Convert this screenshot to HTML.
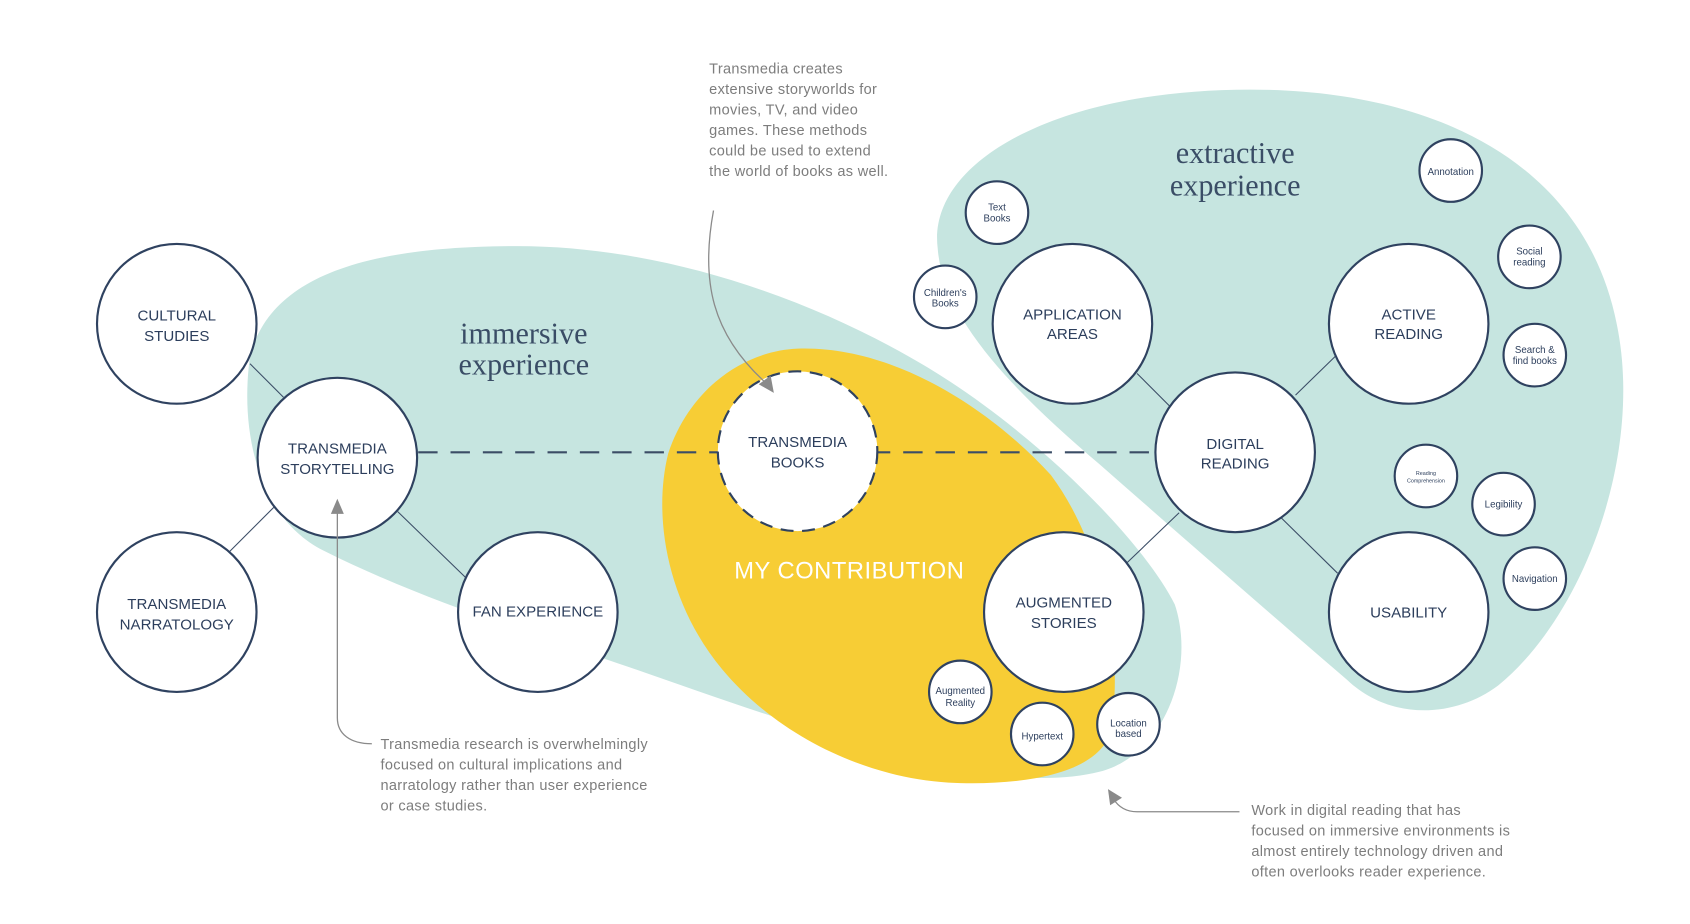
<!DOCTYPE html>
<html><head><meta charset="utf-8"><style>
html,body{margin:0;padding:0;background:#fff;}
svg{display:block;}
.l{font-family:"Liberation Sans",sans-serif;font-size:14px;fill:#2c3e5c;text-anchor:middle;}
.s{font-family:"Liberation Sans",sans-serif;font-size:9px;fill:#2c3e5c;text-anchor:middle;}
.a{font-family:"Liberation Sans",sans-serif;font-size:13.5px;fill:#7d7d7d;letter-spacing:0.3px;}
.h{font-family:"Liberation Serif",serif;font-size:28px;fill:#3a4d66;text-anchor:middle;}
</style></head><body>
<svg width="1690" height="924" viewBox="0 0 1568 856" preserveAspectRatio="none" xmlns="http://www.w3.org/2000/svg">
<rect width="1568" height="856" fill="#fff"/>
<path d="M232,330 C250,260 330,228 480,228 C620,228 760,280 860,340 C960,400 1060,500 1090,560 C1110,620 1080,700 1020,715 C960,730 870,715 770,680 C700,660 620,630 560,610 C470,580 380,550 300,510 C240,480 222,400 232,330 Z" fill="#c6e5e0"/>
<path d="M870,230 C860,150 980,83 1160,83 C1330,83 1470,150 1500,300 C1525,420 1470,570 1390,635 C1350,665 1290,668 1250,630 C1180,570 1100,500 1020,430 C950,370 875,300 870,230 Z" fill="#c6e5e0"/>
<path d="M740,323 C830,320 920,380 975,440 C1020,500 1045,600 1030,680 C1015,720 940,728 880,725 C800,720 720,680 670,620 C620,560 605,480 620,420 C640,360 690,325 740,323 Z" fill="#f7cd35"/>
<text class="h" x="486" y="318">immersive</text>
<text class="h" x="486" y="347">experience</text>
<text class="h" x="1146" y="151">extractive</text>
<text class="h" x="1146" y="181">experience</text>
<text x="788" y="536" style="font-family:'Liberation Sans',sans-serif;font-size:22px;fill:#fff;text-anchor:middle;letter-spacing:0.5px">MY CONTRIBUTION</text>
<g stroke="#3b4d66" stroke-width="1">
<line x1="232" y1="337" x2="263" y2="368"/><line x1="254" y1="470" x2="212" y2="512"/>
<line x1="369" y1="474" x2="432" y2="535"/><line x1="1055" y1="346" x2="1085" y2="376"/>
<line x1="1202" y1="366" x2="1239" y2="330"/><line x1="1189" y1="480" x2="1241" y2="531"/>
<line x1="1094" y1="475" x2="1046" y2="521"/>
</g>
<line x1="388" y1="419" x2="1072" y2="419" stroke="#3b4d66" stroke-width="2" stroke-dasharray="18,12"/>
<g fill="#fff" stroke="#2f4260" stroke-width="2">
<circle cx="164" cy="300" r="74"/><circle cx="313" cy="424" r="74"/><circle cx="164" cy="567" r="74"/>
<circle cx="499" cy="567" r="74"/><circle cx="995" cy="300" r="74"/><circle cx="1146" cy="419" r="74"/>
<circle cx="1307" cy="300" r="74"/><circle cx="1307" cy="567" r="74"/><circle cx="987" cy="567" r="74"/>
<circle cx="925" cy="197" r="29"/><circle cx="877" cy="275" r="29"/><circle cx="1346" cy="158" r="29"/>
<circle cx="1419" cy="238" r="29"/><circle cx="1424" cy="329" r="29"/><circle cx="1323" cy="441" r="29"/>
<circle cx="1395" cy="467" r="29"/><circle cx="1424" cy="536" r="29"/><circle cx="891" cy="641" r="29"/>
<circle cx="967" cy="680" r="29"/><circle cx="1047" cy="671" r="29"/>
</g>
<circle cx="740" cy="418" r="74" fill="#fff" stroke="#2f4260" stroke-width="2" stroke-dasharray="12,8"/>
<text class="l" x="164" y="297">CULTURAL</text><text class="l" x="164" y="316">STUDIES</text>
<text class="l" x="313" y="420">TRANSMEDIA</text><text class="l" x="313" y="439">STORYTELLING</text>
<text class="l" x="164" y="564">TRANSMEDIA</text><text class="l" x="164" y="583">NARRATOLOGY</text>
<text class="l" x="499" y="571">FAN EXPERIENCE</text>
<text class="l" x="740" y="414">TRANSMEDIA</text><text class="l" x="740" y="433">BOOKS</text>
<text class="l" x="995" y="296">APPLICATION</text><text class="l" x="995" y="314">AREAS</text>
<text class="l" x="1146" y="416">DIGITAL</text><text class="l" x="1146" y="434">READING</text>
<text class="l" x="1307" y="296">ACTIVE</text><text class="l" x="1307" y="314">READING</text>
<text class="l" x="1307" y="572">USABILITY</text>
<text class="l" x="987" y="563">AUGMENTED</text><text class="l" x="987" y="582">STORIES</text>
<text class="s" x="925" y="195">Text</text><text class="s" x="925" y="205">Books</text>
<text class="s" x="877" y="274">Children's</text><text class="s" x="877" y="284">Books</text>
<text class="s" x="1346" y="162">Annotation</text>
<text class="s" x="1419" y="236">Social</text><text class="s" x="1419" y="246">reading</text>
<text class="s" x="1424" y="327">Search &amp;</text><text class="s" x="1424" y="337">find books</text>
<text class="s" x="1323" y="440" style="font-size:5px">Reading</text><text class="s" x="1323" y="447" style="font-size:5px">Comprehension</text>
<text class="s" x="1395" y="470">Legibility</text>
<text class="s" x="1424" y="539">Navigation</text>
<text class="s" x="891" y="643">Augmented</text><text class="s" x="891" y="654">Reality</text>
<text class="s" x="967" y="685">Hypertext</text>
<text class="s" x="1047" y="673">Location</text><text class="s" x="1047" y="683">based</text>
<g class="a">
<text x="658" y="68">Transmedia creates</text><text x="658" y="87">extensive storyworlds for</text>
<text x="658" y="106">movies, TV, and video</text><text x="658" y="125">games. These methods</text>
<text x="658" y="144">could be used to extend</text><text x="658" y="163">the world of books as well.</text>
<text x="353" y="694">Transmedia research is overwhelmingly</text><text x="353" y="713">focused on cultural implications and</text>
<text x="353" y="732">narratology rather than user experience</text><text x="353" y="751">or case studies.</text>
<text x="1161" y="755">Work in digital reading that has</text><text x="1161" y="774">focused on immersive environments is</text>
<text x="1161" y="793">almost entirely technology driven and</text><text x="1161" y="812">often overlooks reader experience.</text>
</g>
<g fill="none" stroke="#8a8a8a" stroke-width="1.2">
<path d="M662,195 C650,260 660,310 712,356"/>
<path d="M345,689 C325,689 313,680 313,665 L313,472"/>
<path d="M1150,752 L1055,752 C1045,752 1038,748 1033,740"/>
</g>
<g fill="#8a8a8a">
<polygon points="718,364 704,356 715,348"/>
<polygon points="313,462 307,476 319,476"/>
<polygon points="1028,731 1030,746 1041,739"/>
</g>
</svg>
</body></html>
